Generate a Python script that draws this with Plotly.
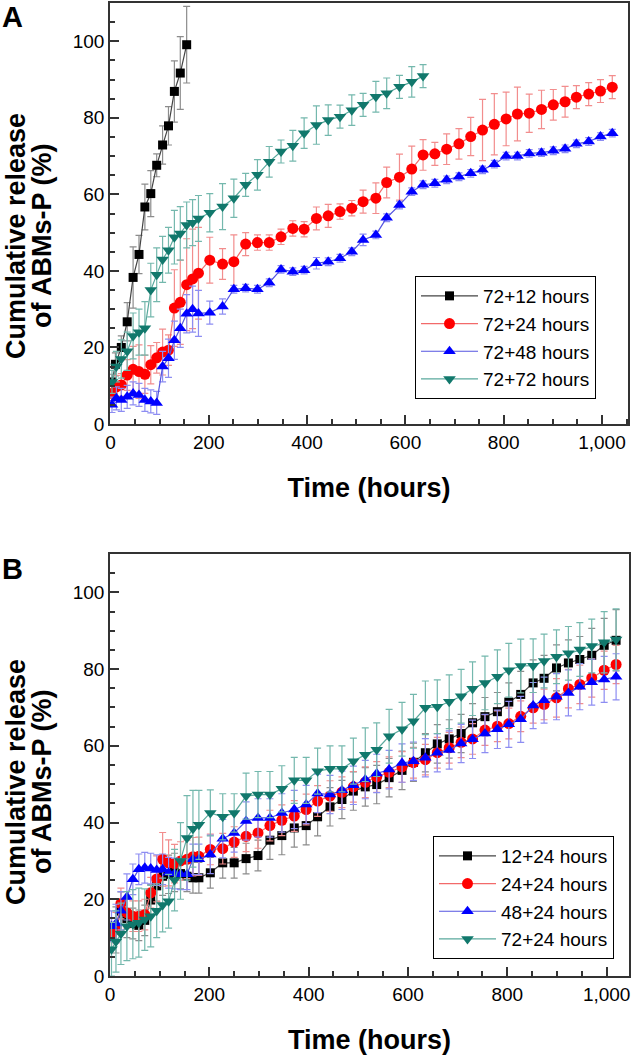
import plotly.graph_objects as go

# ---------------- DATA ----------------
early_t = [3, 12, 22, 34, 46, 58, 70, 82, 94, 106, 118, 130, 142, 155, 167, 179]
late_t_a = [202, 228, 251, 275, 299, 323, 347, 371, 394, 419, 443, 467, 491, 514, 540, 562, 588, 613,
            636, 660, 684, 709, 733, 757, 781, 805, 828, 852, 877, 901, 925, 948, 973, 997, 1021]
late_t_b = [202, 227, 250, 274, 298, 322, 346, 371, 395, 418, 443, 467, 490, 514, 537, 562, 588, 611,
            635, 659, 683, 707, 730, 755, 780, 803, 827, 852, 874, 899, 923, 946, 970, 995, 1019]

# Panel A
a_names = ["72+12 hours", "72+24 hours", "72+48 hours", "72+72 hours"]
a_black_t = [3, 10, 22, 34, 46, 58, 70, 82, 94, 106, 118, 130, 142, 155]
a_black_v = [11, 15.6, 20, 26.7, 38.3, 44.3, 56.7, 60.2, 67.6, 72.9, 77.9, 86.9, 91.7, 99.1]
a_black_e = [2, 3, 3, 5, 8, 5, 6, 6, 3, 5, 5, 8, 9.5, 10]

a_red_v = [8, 9.7, 10.2, 12.8, 14.3, 13.7, 13, 15.5, 17.3, 18.8, 19.3, 30.3, 31.8, 36.4, 37.9, 39.4,
           42.8, 41.8, 42.4, 47.0, 47.4, 47.4, 48.9, 51.1, 50.9, 53.7, 54.4, 55.5, 56.4, 58.1, 59.0,
           63.1, 64.5, 66.6, 70.3, 70.6, 71.8, 73.2, 75.1, 76.8, 78.3, 79.7, 81.0, 81.2, 82.2, 83.4,
           84.2, 85.4, 86.2, 87.0, 88.0]
a_red_e = [2, 3, 3, 4, 6, 7, 5, 5, 4, 6, 4, 10, 11, 12, 13, 12,
           6, 4, 7, 3, 2, 2, 2, 2, 2, 3, 3, 2, 2, 3, 4, 4, 6, 6, 4, 3, 4, 4, 5, 8, 8, 7, 7, 5, 5,
           4, 4, 3, 3, 3, 3]

a_blue_v = [5, 6.7, 6.3, 7.1, 8.0, 7.6, 6.3, 5.9, 5.5, 15, 17.2, 21.9, 25, 28.8, 30, 28.9,
            29.1, 30.7, 35.2, 35.5, 35.2, 36.9, 40.4, 39.8, 40.2, 42.0, 42.4, 43.3, 45.0, 48.1, 49.4,
            53.9, 57.2, 60.7, 62.5, 62.9, 63.8, 64.6, 65.5, 66.4, 67.9, 70.0, 70.0, 70.7, 70.9, 71.4,
            71.9, 73.2, 73.8, 75.1, 76.0]
a_blue_e = [2, 3, 3, 3, 3, 3, 3, 3, 3, 4, 5, 5, 5, 5, 6, 6,
            3, 2, 1, 1, 1, 1, 1, 1, 1, 1.5, 1, 1, 1, 1.5, 1, 1, 1, 1, 1, 1, 1, 1, 1, 1, 1, 1, 1,
            1, 1, 1, 1, 1, 1, 1, 1]

a_teal_v = [11, 15, 17, 19, 23, 24, 25, 35, 39, 43, 45.4, 48.8, 49.8, 52, 52.6, 53.7,
            55.2, 56.8, 59, 62.5, 65.1, 68.5, 71.2, 72.7, 76, 78.1, 79.4, 80.3, 82, 83.4, 85.5,
            86.4, 88.1, 89.4, 90.9]
a_teal_e = [3, 4, 5, 5, 6, 6, 7, 7, 7, 6, 6, 7, 7, 6, 6, 6,
            5, 6, 5, 3, 4, 4, 3, 4, 4, 5, 4, 3, 4, 3, 4, 4, 3, 4, 3]

# Panel B
b_names = ["12+24 hours", "24+24 hours", "48+24 hours", "72+24 hours"]
b_black_v = [10, 12, 16.9, 15, 13.7, 13.2, 14.5, 19.8, 23.5, 26, 26.5, 27, 26.7, 26, 25.6, 25.6,
             26.9, 29.5, 29.5, 30.6, 31.4, 35.4, 36.6, 38.6, 39.2, 41.5, 44.1, 46.0, 48.2, 49.3, 49.9,
             51.7, 53.6, 55.7, 58.2, 60.5, 61.8, 63.2, 66.0, 67.6, 68.9, 71.4, 73.4, 76.4, 77.6, 80.3,
             81.6, 82.5, 83.6, 86.2, 87.5]
b_black_e = [5, 6, 5, 5, 4, 4, 4, 4, 4, 5, 5, 5, 4, 4, 4, 4,
             4, 4, 4, 4, 4, 5, 5, 5, 5, 5, 5, 5, 5, 5, 5, 5, 5, 5, 5, 5, 5, 5, 5, 5, 5, 5, 6, 6,
             6, 6, 6, 6, 7, 7, 8]
b_red_v = [11, 12.6, 18.9, 16.5, 15.6, 15.6, 16, 21.7, 25.3, 30.4, 29.5, 29.3, 30, 30.4, 31.1, 31.2,
           33.0, 33.2, 34.9, 36.4, 37.3, 39.2, 40.6, 41.7, 43.4, 45.6, 46.9, 47.9, 49.3, 50.5, 51.9,
           53.1, 54.5, 55.6, 56.4, 58.2, 59.5, 60.9, 61.8, 64.1, 65.1, 65.8, 67.7, 69.9, 70.8, 72.5,
           74.9, 76.0, 77.7, 79.7, 81.2]
b_red_e = [4, 4, 4, 4, 4, 4, 4, 4, 6, 7, 6, 5, 5, 5, 5, 5,
           4, 4, 4, 4, 4, 4, 4, 4, 4, 4, 4, 4, 4, 4, 4, 4, 4, 4, 4, 4, 4, 4, 4, 4, 4, 4, 4, 4,
           4, 5, 5, 5, 5, 5, 5]
b_blue_v = [13, 13.7, 17, 20.6, 25.2, 27.8, 28.2, 28, 27.6, 27.8, 26.9, 26.7, 26.5, 26.5, 30.4, 30.4,
            31.7, 35.8, 37.3, 40.4, 41.2, 41.2, 42.5, 43.4, 44.7, 47.6, 47.3, 48.4, 49.7, 51.2, 52.8,
            53.8, 55.5, 56.0, 56.9, 58.2, 58.9, 60.6, 61.7, 63.2, 64.3, 65.6, 66.9, 70.5, 71.9, 72.8,
            73.8, 75.4, 76.6, 77.3, 78.0]
b_blue_e = [4, 5, 5, 6, 4, 4, 4, 4, 4, 4, 4, 4, 4, 4, 4, 4,
            5, 5, 5, 5, 5, 5, 5, 5, 5, 5, 5, 5, 5, 5, 5, 5, 5, 5, 5, 5, 5, 5, 5, 5, 5, 6, 6, 6,
            6, 6, 6, 6, 6, 6, 6]
b_teal_v = [7, 9, 11, 13, 13.5, 13.9, 14.7, 15.6, 17, 18.5, 19.5, 25, 30, 36, 38.4, 39.4,
            42.5, 41.5, 42.5, 46.9, 47.3, 47.3, 48.8, 51.0, 51.0, 53.4, 54.0, 54.0, 56.0, 57.7, 59.0,
            62.5, 64.3, 66.4, 69.9, 70.2, 71.5, 72.9, 74.9, 76.4, 78.0, 79.7, 80.8, 80.9, 82.1, 83.2,
            84.1, 85.1, 86.0, 87.0, 87.7]
b_teal_e = [7, 8, 8, 9, 9, 9, 8, 8, 7, 7, 7, 8, 10, 11, 10, 9,
            6, 6, 5, 6, 6, 6, 6, 6, 6, 6, 6, 6, 6, 7, 7, 7, 7, 7, 7, 7, 7, 7, 7, 7, 7, 7, 7, 7,
            7, 7, 7, 7, 7, 8, 8]

y_title_lines = ["Cumulative release", "of ABMs-P (%)"]
x_title = "Time (hours)"

# ---------------- STYLE ----------------
FONT = "Liberation Sans, Arial, sans-serif"
styles = [
    dict(symbol="square", color="#000000", line="#444444", err="#8c8c8c", size=9),
    dict(symbol="circle", color="#ff0000", line="#f26a6a", err="#f28d8d", size=11),
    dict(symbol="triangle-up", color="#0000ff", line="#5555e0", err="#8d8df2", size=11),
    dict(symbol="triangle-down", color="#11786c", line="#5aa99d", err="#74b8ad", size=11),
]

fig = go.Figure()

a_series = [
    (a_black_t, a_black_v, a_black_e),
    (early_t + late_t_a, a_red_v, a_red_e),
    (early_t + late_t_a, a_blue_v, a_blue_e),
    (early_t + late_t_a[:19], a_teal_v, a_teal_e),
]
b_series = [
    (early_t + late_t_b, b_black_v, b_black_e),
    (early_t + late_t_b, b_red_v, b_red_e),
    (early_t + late_t_b, b_blue_v, b_blue_e),
    (early_t + late_t_b, b_teal_v, b_teal_e),
]


def add(series, names, xa, ya, leg):
    for (t, v, e), name, st in zip(series, names, styles):
        fig.add_trace(go.Scatter(
            x=t, y=v, name=name, mode="lines+markers",
            xaxis=xa, yaxis=ya, legend=leg,
            line=dict(color=st["line"], width=1.2),
            marker=dict(symbol=st["symbol"], color=st["color"], size=st["size"],
                        line=dict(width=0)),
            error_y=dict(type="data", array=e, visible=True, color=st["err"],
                         thickness=1.2, width=3.5),
            cliponaxis=True,
        ))


add(a_series, a_names, "x", "y", "legend")
add(b_series, b_names, "x2", "y2", "legend2")

W, H = 634, 1056
ML, MR, MT, MB = 110, 5, 3, 80
PW, PH = W - ML - MR, H - MT - MB


def px_x(px):
    return (px - ML) / PW


def px_y(py):
    return (H - MB - py) / PH


axis_common = dict(
    showline=True, linecolor="#333333", linewidth=1.5, mirror=True,
    ticks="inside", tickcolor="#333333", tickwidth=1.5, ticklen=9,
    showgrid=False, zeroline=False, automargin=False,
    tickfont=dict(family=FONT, size=19, color="#000000"),
    minor=dict(ticks="inside", ticklen=5, tickwidth=1.5, tickcolor="#333333", showgrid=False),
)
xa_common = dict(axis_common, tickmode="linear", tick0=0, dtick=200, tickformat=",d",
                 title=dict(text="<b>" + x_title + "</b>",
                            font=dict(family=FONT, size=27, color="#000"), standoff=27))
ya_common = dict(axis_common, range=[0, 110], tickmode="linear", tick0=0, dtick=20)

annotations = [
    dict(text="<b>A</b>", x=px_x(0), y=px_y(-1), xref="paper", yref="paper", xanchor="left",
         yanchor="top", showarrow=False, font=dict(family=FONT, size=29, color="#000")),
    dict(text="<b>B</b>", x=px_x(0), y=px_y(551), xref="paper", yref="paper", xanchor="left",
         yanchor="top", showarrow=False, font=dict(family=FONT, size=29, color="#000")),
]
for cy in (236, 782):
    for cx, line in zip((16, 42), y_title_lines):
        annotations.append(dict(
            text="<b>" + line + "</b>", x=px_x(cx), y=px_y(cy), xref="paper", yref="paper",
            xanchor="center", yanchor="middle", textangle=-90, showarrow=False,
            font=dict(family=FONT, size=27, color="#000")))

fig.update_layout(
    width=W, height=H,
    margin=dict(l=ML, r=MR, t=MT, b=MB),
    paper_bgcolor="white", plot_bgcolor="white",
    font=dict(family=FONT, color="#000"),
    xaxis=dict(xa_common, domain=[0, px_x(628)], range=[-1, 1053], anchor="y"),
    yaxis=dict(ya_common, domain=[px_y(424), px_y(3)], anchor="x"),
    xaxis2=dict(xa_common, domain=[0, 1], range=[0, 1045], anchor="y2"),
    yaxis2=dict(ya_common, domain=[px_y(976), px_y(554)], anchor="x2"),
    legend=dict(x=px_x(415), y=px_y(276), xanchor="left", yanchor="top",
                bordercolor="#000", borderwidth=1, bgcolor="white",
                font=dict(family=FONT, size=19, color="#000"), itemwidth=57,
                tracegroupgap=0),
    legend2=dict(x=px_x(433), y=px_y(836), xanchor="left", yanchor="top",
                 bordercolor="#000", borderwidth=1, bgcolor="white",
                 font=dict(family=FONT, size=19, color="#000"), itemwidth=57,
                 tracegroupgap=0),
    annotations=annotations,
)

fig.write_html("out.html", config={"displayModeBar": False},
               post_script="document.body.style.margin='0';")
